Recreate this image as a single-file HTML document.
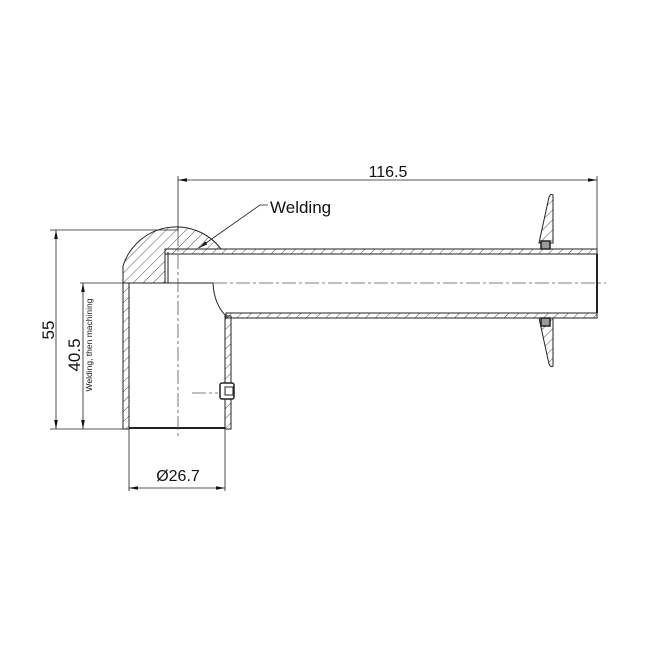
<!DOCTYPE html>
<html><head><meta charset="utf-8"><style>
html,body{margin:0;padding:0;background:#fff}
svg{display:block}
text{font-family:"Liberation Sans",sans-serif;fill:#111}
</style></head><body>
<svg width="650" height="650" viewBox="0 0 650 650" xmlns="http://www.w3.org/2000/svg">
<defs>
<pattern id="h" patternUnits="userSpaceOnUse" width="7" height="7" patternTransform="rotate(45)">
<line x1="0" y1="0" x2="0" y2="7" stroke="#222" stroke-width="0.8"/>
</pattern>
<marker id="a" markerWidth="10" markerHeight="6" refX="9" refY="3" orient="auto-start-reverse" markerUnits="userSpaceOnUse">
<path d="M0,1.2 L9,3 L0,4.8Z" fill="#111"/>
</marker>
</defs>
<g stroke="#222" stroke-width="1" fill="none">
<path d="M123,283 L123,266 A56,56 0 0 1 221,249 L165,249 L165,283 Z" fill="url(#h)"/>
<line x1="168" y1="252" x2="168" y2="283"/>
<rect x="165" y="249" width="432" height="5" fill="url(#h)"/>
<rect x="226" y="313" width="371" height="5" fill="url(#h)"/>
<line x1="597" y1="254" x2="597" y2="313" stroke-width="2"/>
<path d="M213,283 Q214,304 226,316"/>
<rect x="123" y="283" width="6" height="146" fill="url(#h)"/>
<rect x="225" y="316" width="6" height="113" fill="url(#h)"/>
<line x1="129" y1="283" x2="213" y2="283"/>
<line x1="129" y1="428" x2="225" y2="428" stroke-width="2"/>
<rect x="220" y="383" width="14" height="16" rx="2" fill="#fff" stroke-width="1.5"/>
<rect x="225" y="387" width="8" height="8" fill="#fff"/>
<path d="M539,243 L549,197 Q551,193 553,195 L553,243 Z" fill="url(#h)"/>
<path d="M539,318 L549,364 Q551,368 553,366 L553,318 Z" fill="url(#h)"/>
<rect x="541" y="241" width="9" height="8" fill="#999" stroke-width="1.5"/>
<rect x="541" y="318" width="9" height="8" fill="#999" stroke-width="1.5"/>
</g>
<g stroke="#555" stroke-width="0.8" fill="none" stroke-dasharray="14,3,3,3">
<line x1="213" y1="283" x2="606" y2="283"/>
<line x1="178" y1="232" x2="178" y2="436"/>
<line x1="192" y1="393" x2="218" y2="393"/>
</g>
<g stroke="#222" stroke-width="0.8" fill="none">
<line x1="178" y1="176" x2="178" y2="232"/>
<line x1="597" y1="176" x2="597" y2="249"/>
<line x1="178" y1="180" x2="597" y2="180" marker-start="url(#a)" marker-end="url(#a)"/>
<line x1="50" y1="230" x2="178" y2="230"/>
<line x1="50" y1="429" x2="123" y2="429"/>
<line x1="56" y1="230" x2="56" y2="429" marker-start="url(#a)" marker-end="url(#a)"/>
<line x1="80" y1="283" x2="123" y2="283"/>
<line x1="83" y1="283" x2="83" y2="429" marker-start="url(#a)" marker-end="url(#a)"/>
<line x1="129" y1="429" x2="129" y2="491"/>
<line x1="225" y1="429" x2="225" y2="491"/>
<line x1="129" y1="488" x2="225" y2="488" marker-start="url(#a)" marker-end="url(#a)"/>
<polyline points="268,205 260,205 199,248" marker-end="url(#a)"/>
</g>
<text x="388" y="177" font-size="16" text-anchor="middle">116.5</text>
<text x="270" y="213" font-size="17">Welding</text>
<text x="178" y="481" font-size="16" text-anchor="middle">Ø26.7</text>
<text transform="translate(54,330) rotate(-90)" font-size="17" text-anchor="middle">55</text>
<text transform="translate(80,355) rotate(-90)" font-size="17" text-anchor="middle">40.5</text>
<text transform="translate(92,345) rotate(-90)" font-size="8.5" text-anchor="middle">Welding, then machining</text>
</svg>
</body></html>
